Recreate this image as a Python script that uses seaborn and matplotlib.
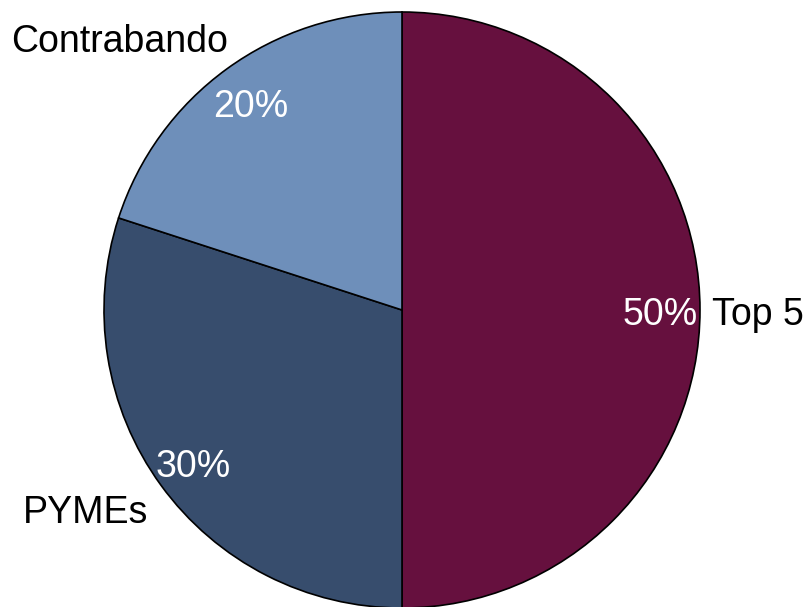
import matplotlib
matplotlib.use('Agg')
import matplotlib.pyplot as plt
import seaborn as sns

# Datos
labels = ['Top 5', 'PYMEs', 'Contrabando']
shares = [50, 30, 20]
colors = ['#66103E', '#374D6D', '#6E8FBA']

sns.set_theme(style='white')
plt.rcParams['font.family'] = ['Liberation Sans', 'DejaVu Sans']

fig = plt.figure(figsize=(8.07, 6.07), dpi=100)
ax = fig.add_axes([0, 0, 1, 1])

wedges, texts, autotexts = ax.pie(shares,
                                  labels=labels,
                                  colors=colors,
                                  startangle=90,
                                  counterclock=False,
                                  autopct='%1.0f%%',
                                  pctdistance=0.865,
                                  labeldistance=1.06,
                                  wedgeprops={'edgecolor': 'black', 'linewidth': 1.2},
                                  textprops={'fontsize': 27, 'color': 'black'})

for t in autotexts:
    t.set_color('white')
    x, y = t.get_position()
    t.set_position((x, y - 0.017))

# Nudge category labels to where they sit in the original
texts[0].set_position((1.04, -0.017))
texts[1].set_position((-0.85, -0.68))
texts[2].set_position((-0.585, 0.90))

# Centre the pie like in the reference (radius ~298 px)
ax.set_aspect('equal')
ax.set_xlim(-402 / 298, 405 / 298)
ax.set_ylim(-297 / 298, 310 / 298)
ax.axis('off')

fig.savefig('out.png', dpi=100)
